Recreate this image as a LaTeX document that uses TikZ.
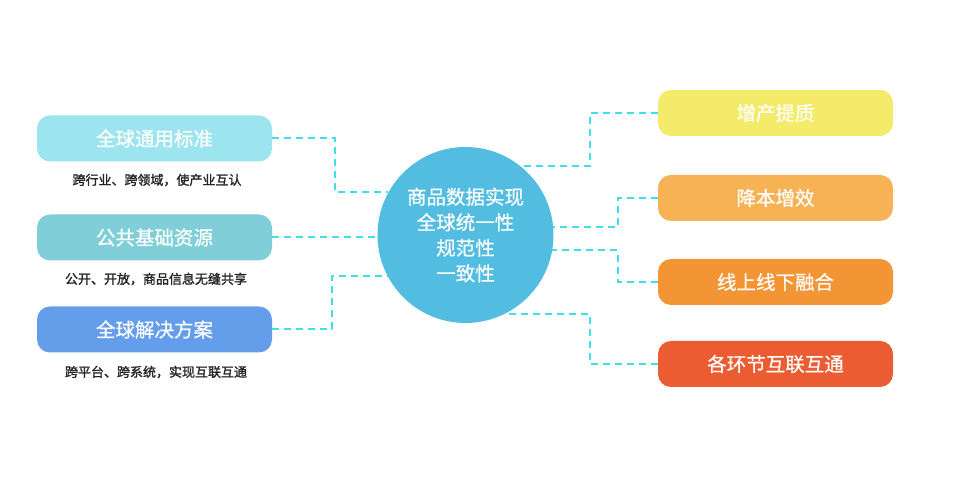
\documentclass[tikz,border=0pt]{standalone}
\usepackage{fontspec}
\newfontfamily\cjk[FakeBold=0.6]{Noto Sans CJK SC}
\newfontfamily\cjknote[FakeBold=1.6]{Noto Sans CJK SC}
\definecolor{stdc}{HTML}{9CE5EF}
\definecolor{resc}{HTML}{80CFD8}
\definecolor{solc}{HTML}{649DEA}
\definecolor{hubc}{HTML}{52BDE0}
\definecolor{incc}{HTML}{F5EB6B}
\definecolor{costc}{HTML}{F7B255}
\definecolor{o2oc}{HTML}{F39535}
\definecolor{linkc}{HTML}{EC5C33}
\definecolor{dashc}{HTML}{3FE0E8}
\begin{document}
\begin{tikzpicture}[
  x=1pt,y=1pt,
  box/.style={rounded corners=13pt,minimum width=235pt,minimum height=46pt,
    inner sep=0pt,text=white,font=\cjk\fontsize{19.5}{24}\selectfont},
  note/.style={font=\cjknote\fontsize{13}{16}\selectfont,text=black!85},
  conn/.style={draw=dashc,line width=2pt,dash pattern=on 7pt off 5pt}
]
  \useasboundingbox (0,0) rectangle (962,503);
  \node[circle,fill=hubc,minimum size=176pt,inner sep=0pt,align=center,text=white,
    font=\cjk\fontsize{19.5}{25.5}\selectfont] (hub) at (465.5,268)
    {商品数据实现\\全球统一性\\规范性\\一致性};
  \node[box,fill=stdc] (std) at (154.5,364.5) {全球通用标准};
  \node[box,fill=resc] (res) at (154.5,265.5) {公共基础资源};
  \node[box,fill=solc] (sol) at (154.5,173.5) {全球解决方案};
  \node[note] (stdn) at (157,323) {跨行业、跨领域，使产业互认};
  \node[note] (resn) at (156,224) {公开、开放，商品信息无缝共享};
  \node[note] (soln) at (156,131) {跨平台、跨系统，实现互联互通};
  \node[box,fill=incc]  (inc)  at (775.5,390) {增产提质};
  \node[box,fill=costc] (cost) at (775.5,305) {降本增效};
  \node[box,fill=o2oc]  (o2o)  at (775.5,221) {线上线下融合};
  \node[box,fill=linkc] (link) at (775.5,139) {各环节互联互通};
  \draw[conn] (std.east) -- ++(63,0) |- (hub.151.5);
  \draw[conn] (res.east) -- (res.east -| hub.west);
  \draw[conn] (sol.east) -- ++(60,0) |- (hub.208.5);
  \draw[conn] (inc.west) -- ++(-68,0) |- (hub.51);
  \draw[conn] (cost.west) -- ++(-40,0) |- (hub.5);
  \draw[conn] (o2o.west) -- ++(-40,0) |- (hub.350);
  \draw[conn] (link.west) -- ++(-68,0) |- (hub.296);
\end{tikzpicture}
\end{document}
